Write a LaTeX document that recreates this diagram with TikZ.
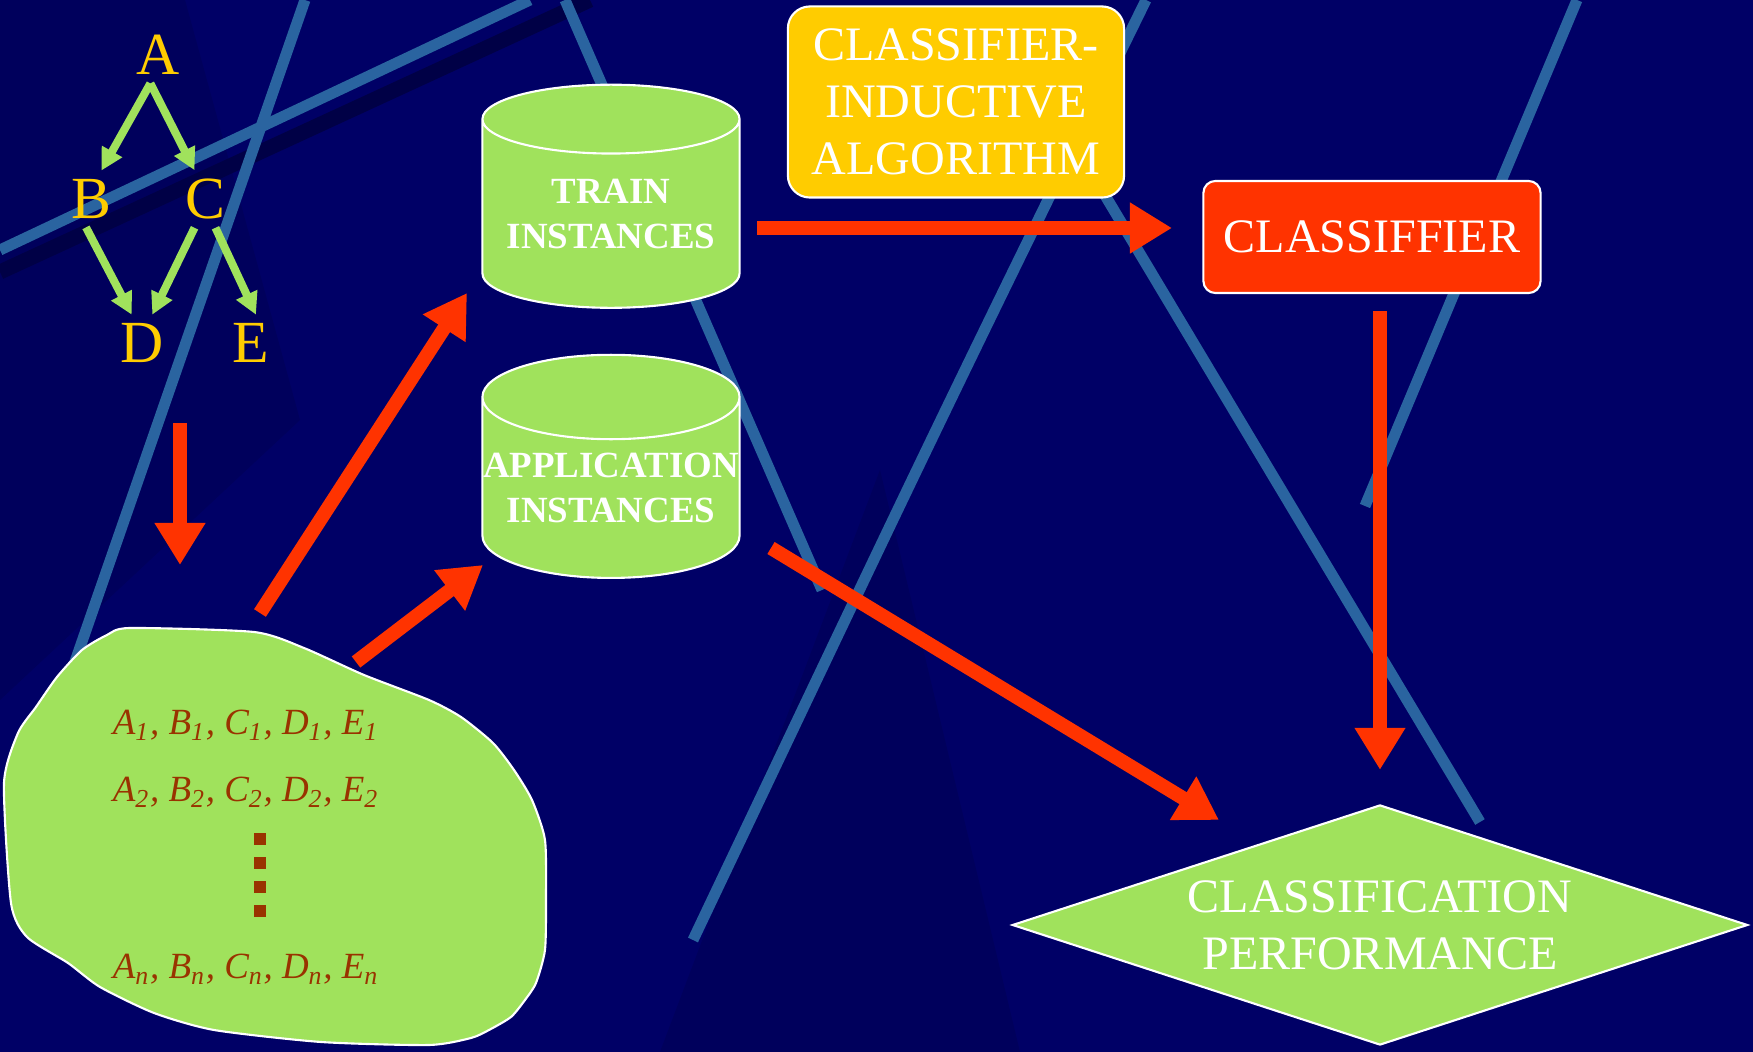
\documentclass[tikz,border=0pt]{standalone}
\usepackage{fontspec}
\setmainfont{Liberation Serif}
\usetikzlibrary{calc,arrows.meta,shapes.geometric}

\definecolor{navy}{RGB}{0,0,102}
\definecolor{navyshade}{RGB}{0,0,92}
\definecolor{navydeep}{RGB}{0,0,70}
\definecolor{streak}{RGB}{42,100,160}
\definecolor{leaf}{RGB}{160,226,92}
\definecolor{flame}{RGB}{255,51,0}
\definecolor{gold}{RGB}{255,204,0}
\definecolor{rust}{RGB}{153,51,0}

\def\attrrow#1{A\textsubscript{#1}, B\textsubscript{#1}, C\textsubscript{#1}, D\textsubscript{#1}, E\textsubscript{#1}}

\tikzset{
  streakline/.style={draw=streak, line width=0.11cm},
  letter/.style={text=gold, inner sep=0.08cm, font=\fontsize{17pt}{20pt}\selectfont},
  treearrow/.style={draw=leaf, line width=0.08cm, -{Triangle[length=0.22cm,width=0.22cm]}},
  flow/.style={draw=flame, line width=0.14cm, -{Triangle[length=0.42cm,width=0.48cm]}},
  store/.style={cylinder, shape border rotate=90, aspect=0.33, draw=white, line width=0.6pt,
    fill=leaf, minimum width=2.57cm, minimum height=2.23cm, inner sep=0pt, text=white,
    align=center, font=\bfseries\fontsize{10.5pt}{12.8pt}\selectfont},
  rowtext/.style={anchor=base, text=rust, inner sep=0pt, font=\itshape\fontsize{10.5pt}{12pt}\selectfont},
  roundbox/.style={rectangle, draw=white, line width=0.6pt, text=white, align=center, inner sep=0pt,
    font=\fontsize{13.66pt}{16.2pt}\selectfont},
}

\begin{document}
\begin{tikzpicture}[x=0.01cm, y=-0.01cm]
  %%%%% START %%%%%

  \fill[navy] (0,0) rectangle (1753,1052);
  \useasboundingbox (0,0) rectangle (1753,1052);
  \fill[navyshade] (0,0) -- (185,0) -- (300,420) -- (0,700) -- cycle;
  \fill[navyshade] (880,470) -- (1020,1052) -- (660,1052) -- cycle;
  \draw[navydeep, line width=0.15cm] (0,272) -- (590,0);
  \draw[streakline] (0,250) -- (530,0);
  \draw[streakline] (305,0) -- (20,820);
  \draw[streakline] (565,0) -- (822,590);
  \draw[streakline] (1146,0) .. controls (940,420) .. (693,940);
  \draw[streakline] (1030,70) -- (1480,822);
  \draw[streakline] (1577,0) -- (1365,506);

  \node[letter] (A) at (158,55) {A};
  \node[letter] (B) at (91,199) {B};
  \node[letter] (C) at (205,199) {C};
  \node[letter] (D) at (142,343) {D};
  \node[letter] (E) at (251,343) {E};
  \draw[treearrow] (A.-105) -- (B.70);
  \draw[treearrow] (A.-105) -- (C.110);
  \draw[treearrow] (B.-100) -- (D.110);
  \draw[treearrow] (C.-110) -- (D.70);
  \draw[treearrow] (C.-70) -- (E.80);

  \draw[fill=leaf, draw=white, line width=0.6pt] plot[smooth cycle, tension=0.4] coordinates {
    (130,628) (254,632) (304,648) (364,675) (429,700) (461,717) (493,743) (514,770)
    (532,800) (545,840) (546,900) (545,950) (536,983) (525,1000) (511,1017) (489,1030)
    (471,1038) (429,1045) (321,1042) (214,1030) (154,1013) (100,987) (68,963) (27,937)
    (11,903) (4,783) (18,733) (36,707) (57,677) (82,650) (107,635)};
  \node[rowtext] (r1) at (246,735) {\attrrow{1}};
  \node[rowtext] (r2) at (246,802) {\attrrow{2}};
  \node[rowtext] (rn) at (246,979) {\attrrow{n}};
  \foreach \k in {0,...,3}
    \fill[rust] (254,833+24*\k) rectangle +(12,12);

  \node[store] (train) at (611,214) {TRAIN\\INSTANCES};
  \node[store] (app) at (611,488) {APPLICATION\\INSTANCES};

  \node[roundbox, fill=gold, rounded corners=0.22cm, minimum width=3.36cm, minimum height=1.91cm]
    (algo) at (956,102) {CLASSIFIER-\\INDUCTIVE\\ALGORITHM};
  \node[roundbox, fill=flame, rounded corners=0.12cm, minimum width=3.37cm, minimum height=1.12cm]
    (clf) at (1372,237) {CLASSIFFIER};
  \node[roundbox, diamond, aspect=3.06, fill=leaf, minimum width=7.35cm, minimum height=2.4cm]
    (perf) at (1380,925) {CLASSIFICATION\\PERFORMANCE};

  \coordinate (treefoot) at (180,423);
  \coordinate (blobhead) at (180,565);
  \coordinate (blobtop) at (260,613);
  \coordinate (blobrim) at (356,662);
  \draw[flow] (treefoot) -- (blobhead);
  \draw[flow] (blobtop) -- ($(train)+(-144,79)$);
  \draw[flow] (blobrim) -- ($(app)+(-128,77)$);
  \draw[flow] ($(train)+(146,14)$) -- ($(clf)+(-200,-9)$);
  \draw[flow] ($(app)+(160,60)$) -- ($(perf)+(-161,-105)$);
  \draw[flow, shorten <=0.17cm, shorten >=0.34cm] (clf.south -| perf.north) -- (perf.north);

  %%%%% END %%%%%
\end{tikzpicture}
\end{document}
